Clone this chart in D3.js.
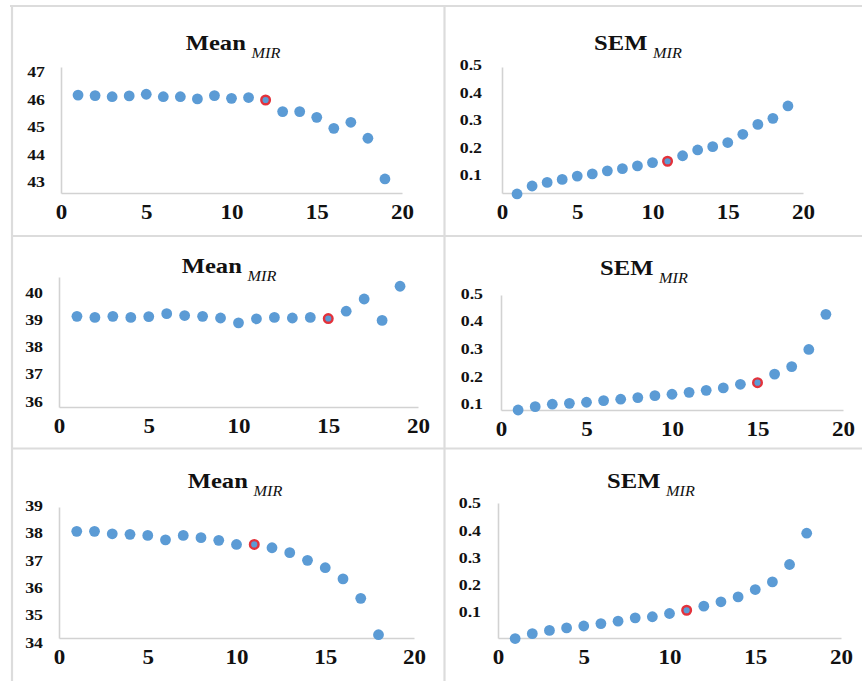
<!DOCTYPE html>
<html>
<head>
<meta charset="utf-8">
<script src="https://cdn.jsdelivr.net/npm/d3@7"></script>
<style>
	body { margin: 0; background: #fff; }
	svg text { font-family: "Liberation Serif", "Times New Roman", serif; fill: #111; }
</style>
</head>
<body>
<svg id="chart" width="862" height="681"></svg>
<script>
// run number on the x axis
var runs19 = [1, 2, 3, 4, 5, 6, 7, 8, 9, 10, 11, 12, 13, 14, 15, 16, 17, 18, 19];
var runs18 = [1, 2, 3, 4, 5, 6, 7, 8, 9, 10, 11, 12, 13, 14, 15, 16, 17, 18];

// row 1
var meanTop = [46.16, 46.14, 46.10, 46.13, 46.19, 46.10, 46.10, 46.02, 46.14, 46.04, 46.07, 45.98, 45.56, 45.56, 45.35, 44.95, 45.17, 44.59, 43.11];
var semTop = [0.031, 0.060, 0.073, 0.084, 0.096, 0.104, 0.115, 0.123, 0.133, 0.145, 0.150, 0.170, 0.191, 0.203, 0.218, 0.248, 0.284, 0.306, 0.351];
// row 2
var meanMiddle = [39.12, 39.08, 39.12, 39.08, 39.11, 39.22, 39.15, 39.12, 39.06, 38.88, 39.03, 39.08, 39.06, 39.08, 39.04, 39.31, 39.76, 38.97, 40.23];
var semMiddle = [0.078, 0.090, 0.099, 0.102, 0.106, 0.112, 0.117, 0.123, 0.130, 0.135, 0.142, 0.149, 0.158, 0.171, 0.177, 0.208, 0.235, 0.297, 0.424];
// row 3
var meanBottom = [38.05, 38.05, 37.96, 37.94, 37.90, 37.74, 37.90, 37.82, 37.72, 37.57, 37.57, 37.45, 37.27, 36.99, 36.72, 36.31, 35.60, 34.27];
var semBottom = [0.002, 0.020, 0.032, 0.041, 0.048, 0.057, 0.066, 0.078, 0.082, 0.094, 0.106, 0.121, 0.137, 0.155, 0.182, 0.210, 0.274, 0.389];

// run that is circled in red
var highlightRuns = [12, 11, 15, 15, 11, 11];

// tick labels
var xTicks = [0, 5, 10, 15, 20];
var meanTicksTop = [43, 44, 45, 46, 47];
var meanTicksMiddle = [36, 37, 38, 39, 40];
var meanTicksBottom = [34, 35, 36, 37, 38, 39];
var semTicks = [0.1, 0.2, 0.3, 0.4, 0.5];

var titleMain = ["Mean", "SEM", "Mean", "SEM", "Mean", "SEM"];
var titleSub = "MIR";

var ScatterPanel = {
	stretch: 1.15,
	dotColour: "#5B9BD5",
	highlightColour: "#E3323B",
	axisColour: "#D2D2D2",

	render: function(svg, panel) {
		var self = this;

		// scales
		var xScale = d3.scaleLinear()
			.domain([0, 20])
			.range([panel.left, panel.right]);
		var yScale = d3.scaleLinear()
			.domain(panel.yDomain)
			.range([panel.bottom, panel.top]);

		var group = svg.append("g").attr("class", "panel");

		// axes
		var xAxis = d3.axisBottom(xScale)
			.tickValues(xTicks)
			.tickSize(0)
			.tickSizeOuter(0)
			.tickPadding(12)
			.tickFormat(d3.format("d"));
		var yAxis = d3.axisLeft(yScale)
			.tickValues(panel.yTicks)
			.tickSize(0)
			.tickSizeOuter(0)
			.tickFormat(d3.format(panel.format));

		group.append("g")
			.attr("class", "axis x")
			.attr("transform", "translate(0," + panel.bottom + ")")
			.call(xAxis);
		group.append("g")
			.attr("class", "axis y")
			.attr("transform", "translate(" + panel.left + ",0)")
			.call(yAxis);

		group.selectAll(".axis .domain")
			.style("stroke", self.axisColour)
			.style("stroke-width", 1.6);
		group.selectAll(".axis line").remove();

		group.selectAll(".axis.x text")
			.attr("font-size", 20)
			.attr("font-weight", "bold")
			.attr("transform", "scale(" + self.stretch + ",1)");
		group.selectAll(".axis.y text")
			.attr("x", 0)
			.attr("font-size", 15.5)
			.attr("font-weight", "bold")
			.attr("transform", "translate(" + (-panel.yGap) + ",0) scale(" + self.stretch + ",1)");

		// dots
		var points = panel.xs.map(function(d, i) {
			return { run: d, value: panel.ys[i] };
		});
		group.selectAll(".dot")
			.data(points)
			.enter()
			.append("circle")
			.attr("class", "dot")
			.attr("cx", function(d) { return xScale(d.run); })
			.attr("cy", function(d) { return yScale(d.value); })
			.attr("r", function(d) { return d.run == panel.highlight ? 4.3 : 5.4; })
			.style("fill", self.dotColour)
			.style("stroke", function(d) { return d.run == panel.highlight ? self.highlightColour : "none"; })
			.style("stroke-width", 2.4);

		// title with subscript
		var title = group.append("text")
			.attr("text-anchor", "middle")
			.attr("transform", "translate(" + panel.titleX + "," + panel.titleY + ") scale(1.12,1)");
		title.append("tspan")
			.attr("font-size", 22)
			.attr("font-weight", "bold")
			.text(panel.title);
		title.append("tspan")
			.attr("dx", 5)
			.attr("dy", 7.5)
			.attr("font-size", 14.5)
			.attr("font-style", "italic")
			.text(titleSub);
	}
};

var svg = d3.select("#chart");

// frame lines between the six charts
var frame = svg.append("g")
	.style("stroke", "#DCDCDC")
	.style("stroke-width", 2.2)
	.style("fill", "none");
frame.append("path").attr("d", "M10,6H862");
frame.append("path").attr("d", "M12,6V681");
frame.append("path").attr("d", "M444.5,6V681");
frame.append("path").attr("d", "M12,236H862");
frame.append("path").attr("d", "M12,448.5H862");

var panels = [
	{ left: 61, right: 402, top: 67, bottom: 193, yDomain: [42.6, 47.18], yTicks: meanTicksTop, format: "d", yGap: 16, xs: runs19, ys: meanTop, title: titleMain[0], titleX: 233, titleY: 50 },
	{ left: 502, right: 803, top: 67, bottom: 193, yDomain: [0.0345, 0.4927], yTicks: semTicks, format: ".1f", yGap: 20, xs: runs19, ys: semTop, title: titleMain[1], titleX: 638, titleY: 50 },
	{ left: 59, right: 418, top: 277, bottom: 407, yDomain: [35.78, 40.57], yTicks: meanTicksMiddle, format: "d", yGap: 16, xs: runs19, ys: meanMiddle, title: titleMain[2], titleX: 229, titleY: 273 },
	{ left: 501, right: 843, top: 295, bottom: 410, yDomain: [0.078, 0.494], yTicks: semTicks, format: ".1f", yGap: 18, xs: runs19, ys: semMiddle, title: titleMain[3], titleX: 644, titleY: 275 },
	{ left: 59, right: 414, top: 507, bottom: 638, yDomain: [34.15, 38.94], yTicks: meanTicksBottom, format: "d", yGap: 16, xs: runs18, ys: meanBottom, title: titleMain[4], titleX: 235, titleY: 488 },
	{ left: 498, right: 841, top: 503, bottom: 638, yDomain: [0.004, 0.5], yTicks: semTicks, format: ".1f", yGap: 17, xs: runs18, ys: semBottom, title: titleMain[5], titleX: 651, titleY: 488 }
];

panels.forEach(function(panel, i) {
	panel.highlight = highlightRuns[i];
	ScatterPanel.render(svg, panel);
});
</script>
</body>
</html>
